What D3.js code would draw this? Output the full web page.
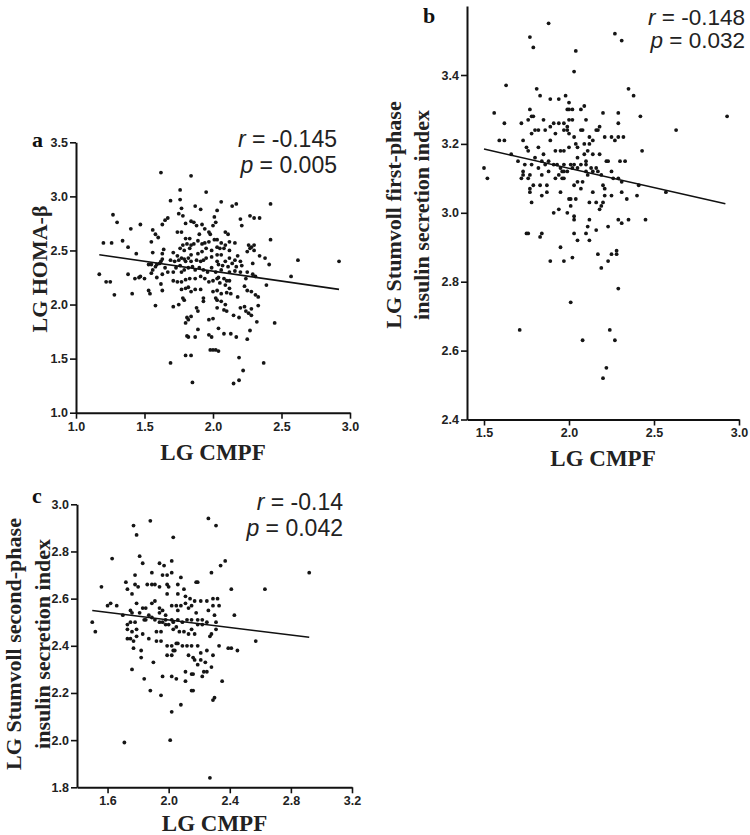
<!DOCTYPE html>
<html><head><meta charset="utf-8">
<script src="https://cdn.jsdelivr.net/npm/d3@7"></script>
<style>body{margin:0;background:#fff} svg{display:block}</style>
</head><body>
<svg id="chart" width="750" height="835"></svg>
<script>
// ---------- Panel a: LG CMPF vs LG HOMA-beta ----------
const aCMPF = [1.62,1.84,1.76,1.95,1.69,1.76,1.87,1.91,1.77,2.03,1.27,1.75,1.78,1.67,1.65,2.01,1.63,1.30,1.47,1.40,1.74,1.77,1.56,1.58,1.60,1.80,1.84,1.86,1.88,1.92,1.94,1.97,1.90,1.98,2.02,2.00,1.20,1.26,1.34,1.38,1.44,1.55,1.64,1.63,1.56,1.63,1.62,1.61,1.80,1.83,1.81,1.78,1.76,1.79,1.83,1.84,1.86,1.89,1.92,1.94,1.97,2.01,2.03,1.95,1.99,2.03,1.92,1.89,1.84,1.82,1.79,1.77,1.74,1.71,1.69,1.72,1.75,1.80,1.84,1.88,1.91,1.93,1.95,1.99,2.03,2.03,1.17,1.22,1.25,1.28,1.38,1.41,1.43,1.46,1.47,1.50,1.53,1.55,1.58,1.59,1.56,1.55,1.59,1.63,1.65,1.67,1.71,1.73,1.76,1.77,1.79,1.82,1.85,1.87,1.90,1.93,1.96,1.99,2.02,1.71,1.74,1.77,1.80,1.83,1.87,1.91,1.94,1.97,2.00,2.03,1.53,1.54,1.63,1.62,1.58,1.71,1.75,1.78,1.79,1.77,1.80,1.82,1.84,1.87,1.91,1.93,1.93,2.00,2.02,2.03,1.88,1.89,1.81,1.84,1.82,1.80,1.97,2.00,1.89,1.82,1.87,1.97,1.99,1.98,2.02,2.04,1.80,1.84,1.69,1.85,2.00,1.81,
  2.06,2.14,2.17,2.42,2.20,2.27,2.30,2.34,2.21,2.09,2.11,2.42,2.06,2.09,2.12,2.16,2.05,2.08,2.12,2.26,2.28,2.30,2.27,2.25,2.30,2.34,2.38,2.06,2.12,2.16,2.18,2.20,2.14,2.09,2.04,2.07,2.11,2.17,2.21,2.29,2.41,2.62,2.92,2.06,2.12,2.16,2.20,2.25,2.29,2.31,2.57,2.04,2.08,2.10,2.12,2.05,2.09,2.12,2.39,2.24,2.03,2.06,2.10,2.13,2.18,2.23,2.25,2.28,2.31,2.33,2.06,2.09,2.03,2.08,2.10,2.15,2.19,2.20,2.23,2.24,2.26,2.28,2.28,2.33,2.32,2.45,2.04,2.08,2.13,2.17,2.25,2.27,2.19,2.37,2.22,2.19,2.15];
const aHOMA = [3.22,3.19,3.06,3.04,2.96,2.97,2.91,2.88,2.89,2.87,2.83,2.84,2.82,2.80,2.78,2.81,2.74,2.76,2.74,2.70,2.67,2.67,2.69,2.65,2.62,2.75,2.77,2.76,2.73,2.74,2.70,2.67,2.65,2.65,2.76,2.73,2.57,2.57,2.59,2.53,2.47,2.58,2.51,2.47,2.48,2.42,2.40,2.38,2.61,2.61,2.56,2.55,2.52,2.50,2.52,2.55,2.56,2.59,2.56,2.57,2.58,2.60,2.60,2.52,2.50,2.53,2.49,2.47,2.46,2.43,2.42,2.43,2.45,2.48,2.41,2.40,2.41,2.40,2.40,2.41,2.40,2.41,2.43,2.44,2.46,2.40,2.28,2.21,2.21,2.09,2.28,2.10,2.24,2.25,2.26,2.24,2.37,2.37,2.35,2.37,2.32,2.29,2.25,2.28,2.34,2.30,2.30,2.34,2.36,2.30,2.32,2.34,2.35,2.32,2.34,2.32,2.30,2.34,2.30,2.22,2.21,2.21,2.23,2.24,2.24,2.26,2.24,2.21,2.22,2.24,2.13,2.10,2.13,2.19,1.99,1.98,2.00,2.06,2.04,2.14,2.15,2.16,2.12,2.14,2.14,2.06,2.03,2.12,2.06,2.04,1.97,1.94,1.88,1.89,1.86,1.83,1.86,1.87,1.77,1.70,1.70,1.72,1.70,1.58,1.58,1.57,1.53,1.53,1.46,1.28,1.58,1.71,
  2.95,2.91,2.93,2.93,2.79,2.82,2.80,2.80,2.73,2.67,2.65,2.60,2.57,2.55,2.58,2.57,2.52,2.52,2.50,2.55,2.53,2.55,2.52,2.49,2.50,2.45,2.43,2.46,2.43,2.41,2.45,2.40,2.38,2.40,2.37,2.36,2.35,2.35,2.36,2.38,2.37,2.41,2.40,2.32,2.30,2.31,2.30,2.30,2.28,2.26,2.26,2.25,2.24,2.22,2.22,2.20,2.18,2.15,2.18,2.24,2.13,2.10,2.11,2.10,2.07,2.17,2.13,2.12,2.09,2.07,2.03,2.00,1.97,1.95,1.94,1.90,1.88,1.97,1.98,1.94,1.92,1.90,1.96,1.99,1.84,1.83,1.78,1.73,1.73,1.70,1.68,1.76,1.51,1.46,1.39,1.30,1.27];
const aFitX = [1.17, 2.92];
const aFitY = [2.46, 2.14];
const aXTicks = [1.0, 1.5, 2.0, 2.5, 3.0];
const aYTicks = [1.0, 1.5, 2.0, 2.5, 3.0, 3.5];

// ---------- Panel b: LG CMPF vs LG Stumvoll first-phase ----------
const bCMPF = [1.88,1.77,1.79,2.04,2.03,1.63,1.81,1.83,1.89,1.94,1.98,2.00,1.99,2.00,2.02,2.07,2.09,1.56,1.77,1.78,1.79,1.76,1.85,1.91,1.94,1.97,2.00,1.99,2.02,2.10,2.16,2.18,2.20,2.21,1.62,1.72,1.80,1.82,1.86,1.89,1.92,1.97,1.99,2.00,2.03,2.07,2.08,2.12,2.14,2.17,1.59,1.62,1.73,1.78,1.89,1.75,1.82,1.76,1.85,1.92,1.95,1.97,2.00,2.04,2.05,2.09,2.12,2.11,2.14,2.18,1.66,1.70,1.74,1.78,1.80,1.84,1.86,1.88,1.91,1.93,1.95,1.97,2.01,2.03,2.05,2.09,2.10,2.13,2.16,2.22,1.50,1.52,1.73,1.73,1.72,1.76,1.77,1.82,1.84,1.88,1.92,1.94,1.96,1.97,1.99,2.02,2.05,2.07,2.10,2.10,2.11,2.14,2.17,2.19,1.96,1.97,1.77,1.77,1.79,1.83,1.87,1.84,1.87,1.95,2.03,2.05,2.08,2.07,2.14,2.20,2.21,2.21,1.78,2.00,2.01,2.04,2.12,2.16,2.18,2.19,2.20,1.91,1.94,1.99,2.01,2.03,2.03,2.12,2.11,2.16,2.10,2.12,2.03,2.05,1.75,1.76,1.83,1.84,1.95,2.23,2.17,2.23,1.89,1.97,2.02,2.19,2.01,1.71,2.08,2.22,2.20,
  2.27,2.31,2.35,2.38,2.29,2.42,2.93,2.29,2.63,2.25,2.27,2.29,2.32,2.43,2.23,2.30,2.33,2.25,2.26,2.29,2.31,2.41,2.57,2.25,2.31,2.34,2.40,2.29,2.31,2.35,2.45,2.25,2.28,2.28,2.29,2.24,2.27];
const bStumvoll1 = [3.55,3.51,3.48,3.47,3.41,3.37,3.36,3.34,3.33,3.33,3.34,3.32,3.30,3.30,3.30,3.30,3.31,3.29,3.30,3.28,3.28,3.27,3.27,3.26,3.26,3.26,3.27,3.25,3.27,3.27,3.24,3.25,3.29,3.22,3.26,3.26,3.24,3.24,3.24,3.25,3.23,3.24,3.24,3.23,3.22,3.24,3.24,3.22,3.21,3.24,3.21,3.21,3.21,3.23,3.21,3.19,3.19,3.18,3.17,3.18,3.18,3.18,3.19,3.20,3.19,3.20,3.20,3.18,3.17,3.17,3.17,3.15,3.14,3.14,3.16,3.15,3.14,3.15,3.14,3.14,3.13,3.14,3.14,3.14,3.16,3.17,3.15,3.13,3.13,3.15,3.13,3.10,3.12,3.11,3.10,3.10,3.11,3.13,3.11,3.12,3.10,3.11,3.12,3.12,3.12,3.13,3.13,3.14,3.14,3.12,3.11,3.12,3.12,3.11,3.10,3.10,3.07,3.06,3.08,3.08,3.08,3.05,3.06,3.06,3.08,3.09,3.09,3.07,3.06,3.08,3.07,3.05,3.03,3.04,3.04,3.04,3.03,3.03,3.01,3.02,3.03,3.00,3.01,3.00,3.02,2.99,2.98,2.98,2.96,2.95,2.94,2.92,2.94,2.92,2.94,2.94,2.93,2.94,2.90,2.96,2.88,2.86,2.86,2.86,2.87,2.84,2.74,2.66,2.63,2.55,2.52,
  3.52,3.50,3.36,3.34,3.29,3.28,3.28,3.26,3.24,3.22,3.21,3.22,3.22,3.18,3.15,3.15,3.15,3.12,3.10,3.10,3.09,3.08,3.06,3.05,3.06,3.04,3.05,2.98,2.97,2.98,2.98,2.88,2.88,2.89,2.78,2.66,2.63];
const bFitX = [1.50, 2.92];
const bFitY = [3.185, 3.026];
const bXTicks = [1.5, 2.0, 2.5, 3.0];
const bYTicks = [2.4, 2.6, 2.8, 3.0, 3.2, 3.4];

// ---------- Panel c: LG CMPF vs LG Stumvoll second-phase ----------
const cCMPF = [1.88,1.77,1.79,2.03,1.63,1.81,1.83,1.94,1.97,1.89,1.96,1.99,2.02,2.02,1.78,1.56,1.72,1.78,1.80,1.73,1.76,1.86,1.89,1.91,1.94,1.99,2.00,1.99,2.06,2.08,2.10,2.06,2.11,2.14,1.60,1.62,1.66,1.79,1.83,1.85,1.89,1.91,1.94,1.96,1.94,1.98,2.02,2.05,2.06,2.08,2.11,2.13,2.15,1.75,1.76,1.70,1.50,1.52,1.73,1.75,1.78,1.81,1.84,1.85,1.87,1.89,1.91,1.94,1.96,1.98,2.02,2.03,2.06,2.09,2.12,2.15,1.73,1.76,1.79,1.83,1.87,1.92,1.95,1.98,2.00,2.03,2.05,2.07,2.10,2.13,2.15,1.73,1.75,1.77,1.79,1.77,1.82,1.82,1.92,1.95,1.99,2.02,2.03,2.04,1.99,2.02,2.05,2.06,2.09,2.12,2.15,2.13,2.16,1.76,1.90,1.96,2.02,2.05,2.11,2.11,2.15,2.15,1.84,1.88,1.95,2.08,2.02,2.01,1.71,
  2.26,2.31,2.37,2.34,2.28,2.18,2.19,2.41,2.63,2.92,2.17,2.21,2.25,2.29,2.32,2.33,2.29,2.18,2.26,2.30,2.43,2.19,2.22,2.25,2.31,2.19,2.22,2.31,2.28,2.27,2.17,2.57,2.19,2.33,2.39,2.41,2.45,2.17,2.21,2.21,2.25,2.29,2.24,2.19,2.28,2.23,2.25,2.16,2.22,2.35,2.16,2.30,2.29,2.27];
const cStumvoll2 = [2.93,2.91,2.87,2.86,2.77,2.78,2.75,2.75,2.74,2.71,2.70,2.70,2.71,2.76,2.70,2.65,2.67,2.66,2.65,2.64,2.62,2.66,2.66,2.66,2.65,2.66,2.65,2.62,2.66,2.69,2.64,2.62,2.61,2.60,2.57,2.58,2.57,2.58,2.56,2.56,2.58,2.59,2.56,2.55,2.54,2.53,2.57,2.57,2.55,2.57,2.58,2.56,2.57,2.55,2.54,2.53,2.50,2.46,2.49,2.50,2.50,2.54,2.51,2.51,2.53,2.52,2.51,2.50,2.50,2.51,2.51,2.50,2.51,2.50,2.51,2.51,2.47,2.46,2.47,2.45,2.43,2.46,2.46,2.49,2.49,2.47,2.48,2.46,2.46,2.45,2.47,2.43,2.43,2.42,2.44,2.39,2.38,2.35,2.42,2.42,2.40,2.40,2.38,2.38,2.36,2.36,2.41,2.41,2.40,2.40,2.40,2.36,2.35,2.30,2.33,2.27,2.27,2.26,2.29,2.25,2.28,2.21,2.26,2.21,2.19,2.15,2.12,2.00,1.99,
  2.94,2.91,2.76,2.74,2.71,2.67,2.67,2.64,2.64,2.71,2.59,2.59,2.59,2.60,2.60,2.57,2.57,2.54,2.55,2.53,2.53,2.51,2.51,2.50,2.50,2.49,2.49,2.47,2.45,2.44,2.45,2.42,2.40,2.40,2.39,2.39,2.38,2.34,2.37,2.34,2.38,2.36,2.33,2.32,2.31,2.29,2.29,2.28,2.27,2.25,2.21,2.18,2.17,1.84];
const cFitX = [1.50, 2.92];
const cFitY = [2.55, 2.436];
const cXTicks = [1.6, 2.0, 2.4, 2.8, 3.2];
const cYTicks = [1.8, 2.0, 2.2, 2.4, 2.6, 2.8, 3.0];

// ---------- layout ----------
const panels = [
  {letter:'a', xs:aCMPF, ys:aHOMA, fx:aFitX, fy:aFitY, xt:aXTicks, yt:aYTicks,
   xd:[1.0,3.0], yd:[1.0,3.5], xr:[76,350], yr:[412.7,142.3],
   letterPos:[32,147], r:'-0.145', p:'0.005', statX:337, statY:[147,173], statSize:23,
   yTitle:['LG HOMA-β'], yTitleX:[40], yTitleY:269, xTitleY:460},
  {letter:'b', xs:bCMPF, ys:bStumvoll1, fx:bFitX, fy:bFitY, xt:bXTicks, yt:bYTicks,
   xd:[1.4,3.0], yd:[2.4,3.6], xr:[467,739], yr:[419.5,6.1],
   letterPos:[423,23], r:'-0.148', p:'0.032', statX:745, statY:[25,48], statSize:22.5,
   yTitle:['LG Stumvoll first-phase','insulin secretion index'], yTitleX:[394,422], yTitleY:215, xTitleY:466},
  {letter:'c', xs:cCMPF, ys:cStumvoll2, fx:cFitX, fy:cFitY, xt:cXTicks, yt:cYTicks,
   xd:[1.4,3.2], yd:[1.8,3.0], xr:[77,352], yr:[787.3,504.3],
   letterPos:[32,503], r:'-0.14', p:'0.042', statX:343, statY:[510,536], statSize:23,
   yTitle:['LG Stumvoll second-phase','insulin secretion index'], yTitleX:[14,43], yTitleY:644, xTitleY:831}
];

const svg = d3.select('#chart');
svg.append('rect').attr('width',750).attr('height',835).attr('fill','#fff');
const fmt = d3.format('.1f');

panels.forEach(P => {
  const x = d3.scaleLinear().domain(P.xd).range(P.xr);
  const y = d3.scaleLinear().domain(P.yd).range(P.yr);
  const g = svg.append('g');

  // axes
  const xAxis = d3.axisBottom(x).tickValues(P.xt).tickFormat(fmt).tickSize(6).tickSizeOuter(0).tickPadding(3);
  const yAxis = d3.axisLeft(y).tickValues(P.yt).tickFormat(fmt).tickSize(6).tickSizeOuter(0).tickPadding(2);
  const gx = g.append('g').attr('transform',`translate(0,${P.yr[0]})`).call(xAxis);
  const gy = g.append('g').attr('transform',`translate(${P.xr[0]},0)`).call(yAxis);
  [gx,gy].forEach(a => {
    a.select('.domain').attr('stroke','#111').attr('stroke-width',2);
    a.selectAll('.tick line').attr('stroke','#111').attr('stroke-width',1.6);
    a.selectAll('.tick text').attr('fill','#222')
      .style('font-family','"Liberation Sans", Arial, sans-serif')
      .style('font-weight','bold').style('font-size','12.5px');
  });

  // points
  g.append('g').selectAll('circle').data(d3.range(P.xs.length)).join('circle')
    .attr('cx', i => x(P.xs[i])).attr('cy', i => y(P.ys[i]))
    .attr('r', 1.9).attr('fill','#151515');

  // regression line
  g.append('line')
    .attr('x1', x(P.fx[0])).attr('y1', y(P.fy[0]))
    .attr('x2', x(P.fx[1])).attr('y2', y(P.fy[1]))
    .attr('stroke','#111').attr('stroke-width',1.6);

  // panel letter
  g.append('text').attr('x',P.letterPos[0]).attr('y',P.letterPos[1]).text(P.letter)
    .style('font-family','"Liberation Serif", "Times New Roman", serif')
    .style('font-weight','bold').style('font-size','22px').attr('fill','#111');

  // stats
  const st = (label, val, yy) => {
    const t = g.append('text').attr('x',P.statX).attr('y',yy).attr('text-anchor','end')
      .style('font-family','"Liberation Sans", Arial, sans-serif').style('font-size',P.statSize+'px').attr('fill','#222');
    t.append('tspan').style('font-style','italic').text(label);
    t.append('tspan').text(' = ' + val);
  };
  st('r', P.r, P.statY[0]);
  st('p', P.p, P.statY[1]);

  // axis titles
  g.append('text').attr('x', (P.xr[0]+P.xr[1])/2).attr('y', P.xTitleY).attr('text-anchor','middle')
    .text('LG CMPF')
    .style('font-family','"Liberation Serif", "Times New Roman", serif')
    .style('font-weight','bold').style('font-size','23px').attr('fill','#222');
  P.yTitle.forEach((line, k) => {
    g.append('text')
      .attr('transform', `translate(${P.yTitleX[k]+7},${P.yTitleY}) rotate(-90)`)
      .attr('text-anchor','middle').text(line)
      .style('font-family','"Liberation Serif", "Times New Roman", serif')
      .style('font-weight','bold').style('font-size','22px').attr('fill','#222');
  });
});
</script>
</body></html>
